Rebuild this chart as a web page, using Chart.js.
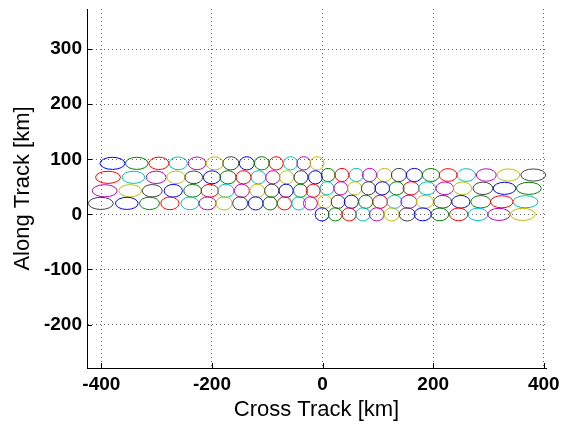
<!DOCTYPE html>
<html>
<head>
<meta charset="utf-8">
<script src="https://cdn.jsdelivr.net/npm/chart.js@4"></script>
<style>
  html, body { margin: 0; padding: 0; background: #fff; }
</style>
</head>
<body>
<canvas id="chartFoot" width="563" height="424"></canvas>
<script>
// footprint centres [km] (left to right in each row)
const leftRowY = [92.7, 67.3, 42.9, 20.0];
const leftRowX = [
    [-380, -336, -296, -261, -227, -195, -166, -137, -110, -84, -58, -34, -10],
    [-388, -342, -301, -265, -233, -200, -171, -143, -116, -90, -65, -39, -13],
    [-394, -348, -308, -270, -235, -204, -175, -146, -118, -92, -66, -40, -17],
    [-401, -354, -313, -276, -240, -208, -178, -149, -121, -95, -69, -43, -22]
];
const rightRowY = [71.5, 47.3, 22.9, 0.0];
const rightRowX = [
    [10, 35, 61, 85, 112, 138, 166, 196, 227, 260, 296, 336, 381],
    [8, 33, 58, 83, 108, 134, 160, 189, 221, 253, 290, 329, 373],
    [4, 28, 52, 78, 104, 130, 156, 185, 217, 250, 286, 324, 367],
    [-1, 23, 48, 73, 98, 125, 153, 181, 212, 246, 281, 319, 362]
];
// footprint size by scan position, swath edge -> nadir [km]
const footWidth = [45, 41, 36, 33, 32, 31, 29, 27, 26.5, 25.5, 25.5, 25, 25];
const footHeight = [22, 22, 22.5, 23, 23, 23.5, 24, 24, 24, 24, 24, 24, 24];

const xTicks = [-400, -200, 0, 200, 400];
const yTicks = [-200, -100, 0, 100, 200, 300];
const xRange = [-426, 404];
const yRange = [-279, 373];

const colorOrder = ["#0000ff", "#008000", "#ff0000", "#00bfbf", "#bf00bf", "#bfbf00", "#404040"];
const fontFam = "'Liberation Sans', Arial, Helvetica, sans-serif";

// scans alternate left / right
const datasets = [];
for (let r = 0; r < 4; r++) {
    datasets.push({
        label: "L" + r, colorStart: datasets.length,
        data: leftRowX[r].map((x, j) => ({ x: x, y: leftRowY[r], w: footWidth[j], h: footHeight[j] }))
    });
    datasets.push({
        label: "R" + r, colorStart: datasets.length,
        data: rightRowX[r].map((x, j) => ({ x: x, y: rightRowY[r], w: footWidth[12 - j], h: footHeight[12 - j] }))
    });
}
datasets.forEach(d => { d.pointRadius = 0; d.showLine = false; });

const ellipsePlugin = {
    id: "ellipses",
    afterDatasetsDraw(chart) {
        const ctx = chart.ctx;
        const xs = chart.scales.x, ys = chart.scales.y;
        ctx.save();
        ctx.lineWidth = 1;
        chart.data.datasets.forEach((ds, di) => {
            const meta = chart.getDatasetMeta(di);
            meta.data.forEach((el, i) => {
                const p = ds.data[i];
                const rx = xs.getPixelForValue(p.x + p.w / 2) - el.x;
                const ry = el.y - ys.getPixelForValue(p.y + p.h / 2);
                ctx.strokeStyle = colorOrder[(ds.colorStart + i) % 7];
                ctx.beginPath();
                ctx.ellipse(el.x, el.y, rx, ry, 0, 0, Math.PI * 2);
                ctx.stroke();
            });
        });
        ctx.restore();
    }
};

// matlab style ticks pointing into the axes
const innerTicks = {
    id: "innerTicks",
    afterDraw(chart) {
        const ctx = chart.ctx, a = chart.chartArea;
        ctx.save();
        ctx.strokeStyle = "#000";
        ctx.lineWidth = 1;
        ctx.beginPath();
        xTicks.forEach(v => {
            const px = Math.round(chart.scales.x.getPixelForValue(v)) + 0.5;
            ctx.moveTo(px, a.bottom); ctx.lineTo(px, a.bottom - 5);
        });
        yTicks.forEach(v => {
            const py = Math.round(chart.scales.y.getPixelForValue(v)) + 0.5;
            ctx.moveTo(a.left, py); ctx.lineTo(a.left + 5, py);
        });
        ctx.stroke();
        ctx.restore();
    }
};

new Chart(document.getElementById("chartFoot"), {
    type: "scatter",
    data: { datasets: datasets },
    plugins: [ellipsePlugin, innerTicks],
    options: {
        responsive: false,
        animation: false,
        layout: { padding: { top: 9, right: 17, left: 0, bottom: 0 } },
        plugins: { legend: { display: false }, tooltip: { enabled: false } },
        scales: {
            x: {
                type: "linear", min: xRange[0], max: xRange[1],
                afterBuildTicks: s => { s.ticks = xTicks.map(v => ({ value: v })); },
                afterFit: s => { s.height = 56; s.paddingLeft = 0; s.paddingRight = 0; },
                grid: { color: "rgba(0,0,0,0.6)", lineWidth: 1, drawTicks: false },
                border: { display: true, color: "#000", width: 1, dash: [1, 3] },
                ticks: { color: "#000", padding: 5, maxRotation: 0, font: { family: fontFam, size: 19, weight: "bold" } },
                title: { display: true, text: "Cross Track [km]", color: "#000",
                         font: { family: fontFam, size: 22 }, padding: { top: 0, bottom: 1 } }
            },
            y: {
                type: "linear", min: yRange[0], max: yRange[1],
                afterBuildTicks: s => { s.ticks = yTicks.map(v => ({ value: v })); },
                afterFit: s => { s.width = 87; s.paddingTop = 0; s.paddingBottom = 0; },
                grid: { color: "rgba(0,0,0,0.6)", lineWidth: 1, drawTicks: false },
                border: { display: true, color: "#000", width: 1, dash: [1, 3] },
                ticks: { color: "#000", padding: 5, font: { family: fontFam, size: 19, weight: "bold" } },
                title: { display: true, text: "Along Track [km]", color: "#000",
                         font: { family: fontFam, size: 22 }, padding: { top: 10, bottom: 0 } }
            }
        }
    }
});
</script>
</body>
</html>
